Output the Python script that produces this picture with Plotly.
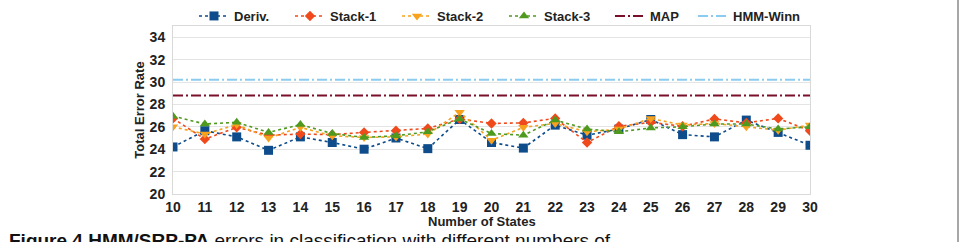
import plotly.graph_objects as go

states = list(range(10, 31))
deriv  = [24.2, 25.65, 25.1, 23.9, 25.1, 24.6, 24.0, 25.0, 24.05, 26.65, 24.6, 24.1, 26.15, 25.25, 25.8, 26.65, 25.3, 25.1, 26.6, 25.5, 24.35]
stack1 = [26.75, 24.9, 25.95, 25.25, 25.35, 25.3, 25.5, 25.65, 25.85, 26.7, 26.3, 26.35, 26.75, 24.6, 26.05, 26.4, 26.05, 26.7, 26.35, 26.75, 25.65]
stack2 = [26.0, 25.35, 26.2, 25.0, 25.95, 25.2, 25.05, 25.1, 25.35, 27.3, 24.8, 25.95, 26.3, 25.55, 25.8, 26.75, 26.15, 26.3, 26.0, 25.7, 26.15]
stack3 = [26.95, 26.25, 26.4, 25.5, 26.2, 25.4, 25.05, 25.2, 25.55, 26.7, 25.4, 25.25, 26.6, 25.8, 25.55, 25.9, 26.0, 26.25, 26.25, 25.8, 26.0]
map_val = 28.8
winn_val = 30.2

names = ["Deriv.", "Stack-1", "Stack-2", "Stack-3", "MAP", "HMM-Winn"]
x_title = "Number of States"
y_title = "Total Error Rate"
caption = "<b>Figure 4 HMM/SRP-PA</b> errors in classification with different numbers of"

FONT = "Liberation Sans, Arial, sans-serif"
W, H = 960, 242
L, R, T, B = 173, 150, 26, 48
PW, PH = W - L - R, H - T - B

def px_x(p):
    return (p - L) / PW

def px_y(p):
    return (H - B - p) / PH

# legend entry widths (px) per trace
leg_w = [51, 62, 62, 61, 38, 70]

fig = go.Figure()
series = [
    (deriv, names[0], "#0e4c8c", "square", 9),
    (stack1, names[1], "#f04a1c", "diamond", 8),
    (stack2, names[2], "#f6a21e", "triangle-down", 9),
    (stack3, names[3], "#4f9a1e", "triangle-up", 9),
]
for i, (vals, nm, col, sym, sz) in enumerate(series):
    fig.add_trace(go.Scatter(
        x=states, y=vals, name=nm, mode="lines+markers",
        line=dict(color=col, width=1.6, dash="dot"),
        marker=dict(symbol=sym, size=sz, color=col),
        legendwidth=leg_w[i],
    ))

fig.add_trace(go.Scatter(
    x=[states[0], states[-1]], y=[map_val, map_val], name=names[4], mode="lines",
    line=dict(color="#7a0f2a", width=2, dash="10px,3px,2px,3px"),
    legendwidth=leg_w[4],
))
fig.add_trace(go.Scatter(
    x=[states[0], states[-1]], y=[winn_val, winn_val], name=names[5], mode="lines",
    line=dict(color="#8ccbf0", width=2, dash="10px,3px,2px,3px"),
    legendwidth=leg_w[5],
))

fig.update_layout(
    width=W, height=H,
    margin=dict(l=L, r=R, t=T, b=B, autoexpand=False),
    paper_bgcolor="white", plot_bgcolor="white",
    font=dict(family=FONT, size=12, color="#222"),
    showlegend=True,
    legend=dict(orientation="h", x=px_x(194), xanchor="left",
                yref="container", y=(H - 16) / H, yanchor="middle",
                font=dict(family=FONT, size=13, color="#222", weight="bold"),
                tracegroupgap=0, bgcolor="rgba(0,0,0,0)"),
    xaxis=dict(range=[10, 30], dtick=1, tick0=10,
               showgrid=False, showline=True, linecolor="#d9d9d9", linewidth=1,
               mirror=True, ticks="", ticklen=0,
               tickfont=dict(family=FONT, size=14, color="#222", weight="bold"),
               zeroline=False),
    yaxis=dict(range=[20, 35], dtick=2, tick0=20,
               showgrid=True, gridcolor="#e4e4e4", gridwidth=1,
               showline=True, linecolor="#d9d9d9", linewidth=1, mirror=True,
               ticks="", ticklen=0, ticklabelstandoff=4,
               tickfont=dict(family=FONT, size=14, color="#222", weight="bold"),
               title=dict(text="<b>" + y_title + "</b>", font=dict(family=FONT, size=13, color="#222"), standoff=2),
               zeroline=False),
)

fig.add_annotation(
    text="<b>" + x_title + "</b>", xref="paper", yref="paper",
    x=px_x(482), y=px_y(221), xanchor="center", yanchor="middle",
    showarrow=False, font=dict(family=FONT, size=13, color="#222"),
)

fig.add_annotation(
    text=caption, xref="paper", yref="paper",
    x=px_x(7), y=px_y(228), xanchor="left", yanchor="top",
    showarrow=False, font=dict(family=FONT, size=19, color="#111"),
)

fig.add_shape(type="line", xref="paper", yref="paper",
              x0=px_x(958), x1=px_x(958),
              y0=px_y(242), y1=px_y(0),
              line=dict(color="#8a8a8a", width=1.5))

fig.write_html("out.html")
